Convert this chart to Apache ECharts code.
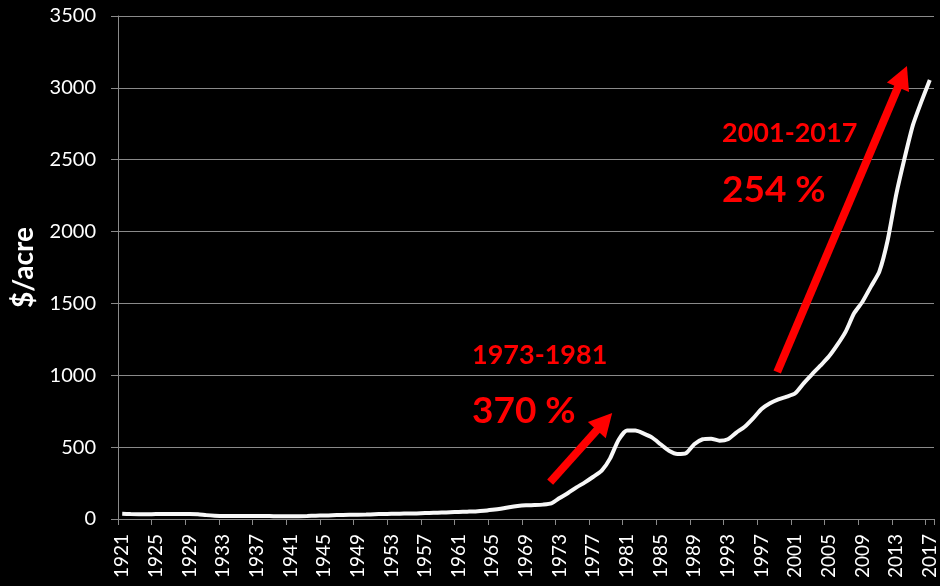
<!DOCTYPE html>
<html>
<head>
<meta charset="utf-8">
<script src="https://cdn.jsdelivr.net/npm/echarts@6/dist/echarts.min.js"></script>
<style>
html,body{margin:0;padding:0;background:#000;}
#c{width:940px;height:586px;}
</style>
</head>
<body>
<div id="c"></div>
<script>
// Years 1921..2017
var years = [];
for (var y = 1921; y <= 2017; y++) years.push(String(y));

// $/acre values
var values1920s = [36, 34, 33, 33, 34, 34, 34, 35, 35, 33];          // 1921-1930
var values1930s = [27, 23, 21, 21, 21, 21, 21, 21, 20, 20];          // 1931-1940
var values1940s = [20, 20, 21, 23, 24, 26, 28, 30, 30, 31];          // 1941-1950
var values1950s = [33, 35, 36, 37, 38, 39, 41, 43, 45, 47];          // 1951-1960
var values1960s = [49, 51, 53, 57, 64, 72, 82, 90, 95, 97];          // 1961-1970
var values1970s = [100, 108, 146, 181, 220, 255, 294, 336, 422, 550]; // 1971-1980
var values1980s = [615, 615, 594, 566, 520, 475, 452, 457, 520, 555]; // 1981-1990
var values1990s = [559, 545, 555, 601, 642, 700, 765, 805, 833, 851]; // 1991-2000
var values2000s = [875, 944, 1007, 1067, 1130, 1211, 1304, 1431, 1512, 1617]; // 2001-2010
var values2010s = [1721, 1941, 2255, 2510, 2742, 2904, 3055];        // 2011-2017

var values = [].concat(values1920s, values1930s, values1940s, values1950s,
  values1960s, values1970s, values1980s, values1990s, values2000s, values2010s);

var yTicks = [0, 500, 1000, 1500, 2000, 2500, 3000, 3500];

// Annotations
var periodLabels = ['1973-1981', '2001-2017'];
var pctLabels = ['370 %', '254 %'];
// arrow endpoints in data units [year, $/acre]
var arrow1 = [[1971.87, 257], [1978.33, 678]];
var arrow2 = [[1998.86, 1023], [2013.75, 3078]];

var FONT = 'Lato, "Open Sans", sans-serif';
var chart = echarts.init(document.getElementById('c'), null, {renderer: 'canvas'});

chart.setOption({
  backgroundColor: '#000',
  animation: false,
  grid: {left: 118, right: 6, top: 16, bottom: 67, containLabel: false},
  xAxis: [{
    type: 'category',
    data: years,
    boundaryGap: true,
    axisLine: {lineStyle: {color: '#8a8a8a', width: 1}},
    axisTick: {show: true, interval: 3, length: 6, lineStyle: {color: '#8a8a8a'}},
    axisLabel: {interval: 3, rotate: 90, color: '#fff', fontFamily: FONT, fontSize: 19, margin: 15},
    splitLine: {show: false}
  }, {
    type: 'value',
    min: 1920.5,
    max: 2017.5,
    show: false,
    gridIndex: 0
  }],
  yAxis: {
    type: 'value',
    min: yTicks[0],
    max: yTicks[yTicks.length - 1],
    interval: yTicks[1] - yTicks[0],
    name: '$/acre',
    nameLocation: 'middle',
    nameGap: 80,
    nameRotate: 90,
    nameTextStyle: {color: '#fff', fontFamily: FONT, fontSize: 28, fontWeight: 'bold'},
    axisLine: {show: true, lineStyle: {color: '#8a8a8a', width: 1}},
    axisTick: {show: true, length: 7, lineStyle: {color: '#8a8a8a'}},
    axisLabel: {color: '#fff', fontFamily: FONT, fontSize: 20, margin: 22,
      formatter: function (v) { return String(v); }},
    splitLine: {show: true, lineStyle: {color: '#8a8a8a', width: 1}}
  },
  series: [{
    type: 'line',
    data: values,
    xAxisIndex: 0,
    showSymbol: false,
    symbol: 'none',
    smooth: 0.2,
    lineStyle: {color: '#f7f7f7', width: 4},
    z: 3
  }, {
    type: 'line',
    xAxisIndex: 1,
    data: [],
    symbol: 'none',
    z: 4,
    markLine: {
      silent: true,
      animation: false,
      symbol: ['none', 'triangle'],
      symbolSize: [24, 23],
      label: {show: false},
      lineStyle: {color: '#ff0000', width: 8, type: 'solid', opacity: 1},
      emphasis: {disabled: true},
      data: [
        [{coord: arrow1[0]}, {coord: arrow1[1]}],
        [{coord: arrow2[0]}, {coord: arrow2[1]}]
      ]
    }
  }],
  graphic: [
    {type: 'text', left: 472, top: 342, style: {text: periodLabels[0], fill: '#ff0000', font: 'bold 27px ' + FONT}},
    {type: 'text', left: 472, top: 393, style: {text: pctLabels[0], fill: '#ff0000', font: 'bold 37px ' + FONT}},
    {type: 'text', left: 722, top: 120, style: {text: periodLabels[1], fill: '#ff0000', font: 'bold 27px ' + FONT}},
    {type: 'text', left: 722, top: 172, style: {text: pctLabels[1], fill: '#ff0000', font: 'bold 37px ' + FONT}}
  ]
});
</script>
</body>
</html>
